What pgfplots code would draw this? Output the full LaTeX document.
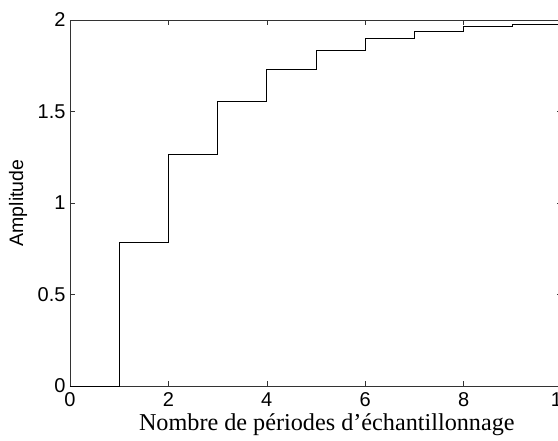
\documentclass[border=0pt]{standalone}
\usepackage{pgfplots}
\pgfplotsset{compat=1.18}
\usepackage{fontspec}
\setmainfont{Liberation Serif}
\newfontfamily\arial{Liberation Sans}
\begin{document}
\begin{tikzpicture}[x=1pt,y=1pt]
\clip (0,0) rectangle (558,440);
\begin{axis}[
  at={(70pt,54pt)}, anchor=south west,
  scale only axis, width=492pt, height=366pt,
  xmin=0, xmax=10, ymin=0, ymax=2,
  xtick={0,2,4,6,8,10}, ytick={0,0.5,1,1.5,2},
  tick align=inside, major tick length=5pt,
  axis line style={black!80, line width=0.7pt},
  tick style={black!80, line width=0.6pt},
  /pgf/number format/assume math mode=true,
  ticklabel style={font=\arial\fontsize{20}{20}\selectfont},
  xticklabel style={yshift=-3pt},
  yticklabel style={xshift=-1pt},
  xlabel={Nombre de périodes d’échantillonnage},
  xlabel style={at={(rel axis cs:0.522,0)}, anchor=base, yshift=-44pt, font=\fontsize{24.2}{24.2}\selectfont},
  ylabel={Amplitude},
  ylabel style={at={(rel axis cs:0,0.5)}, anchor=center, yshift=52pt, font=\arial\fontsize{19.5}{19.5}\selectfont},
  clip=true,
]
\addplot[const plot, black, line width=0.9pt] coordinates {
(0,0) (1,0.787) (2,1.264) (3,1.554) (4,1.729) (5,1.836) (6,1.900) (7,1.940) (8,1.963) (9,1.978) (10,1.987)
};
\end{axis}
\end{tikzpicture}
\end{document}
